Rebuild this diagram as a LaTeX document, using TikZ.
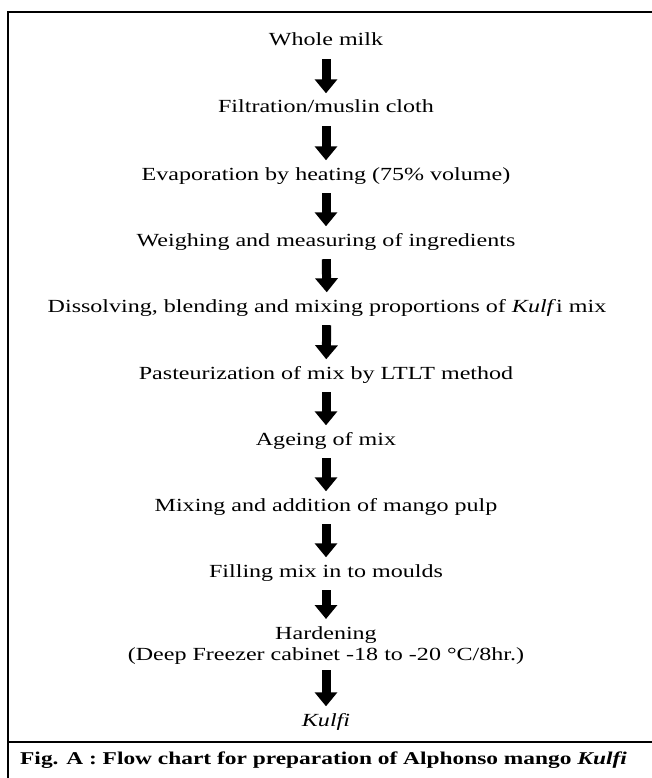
\documentclass[tikz,border=0pt]{standalone}
\usepackage{fontspec}
\setmainfont{Liberation Serif}[FakeStretch=1.3]
\usetikzlibrary{arrows.meta}

\begin{document}
\begin{tikzpicture}[
        x=1pt,
        y=-1pt,
        step text/.style={font=\fontsize{18.5}{21}\selectfont,inner sep=0pt,
            text height=12.5pt,text depth=4pt},
        note text/.style={font=\fontsize{18.5}{21}\selectfont,inner sep=0pt,
            align=center},
        flow arrow/.style={line width=9pt,-{Triangle[width=22pt,length=14pt]},
            shorten <=9pt,shorten >=7pt},
        frame line/.style={line width=2.5pt}
    ]
    \useasboundingbox (0,0) rectangle (652,778);

    % The outer frame and the caption bar.
    \draw[frame line] (654,12) -- (8,12) -- (8,780);
    \draw[frame line] (8,742) -- (654,742);

    % The steps of the process, one per row.
    \node[step text,anchor=base] (milk) at (326,46) {Whole milk};
    \node[step text,anchor=base] (filter) at (326,113) {Filtration/muslin cloth};
    \node[step text,anchor=base] (evap) at (326,180)
        {Evaporation by heating (75\% volume)};
    \node[step text,anchor=base] (weigh) at (326,246)
        {Weighing and measuring of ingredients};
    \node[step text,anchor=base] (blend) at (327,312)
        {Dissolving, blending and mixing proportions of \textit{Kulf}i mix};
    \node[step text,anchor=base] (pasteur) at (326,379)
        {Pasteurization of mix by LTLT method};
    \node[step text,anchor=base] (ageing) at (326,445) {Ageing of mix};
    \node[step text,anchor=base] (pulp) at (326,511)
        {Mixing and addition of mango pulp};
    \node[step text,anchor=base] (moulds) at (326,577) {Filling mix in to moulds};
    \node[note text,anchor=north] (harden) at (326,626)
        {Hardening\\(Deep Freezer cabinet -18 to -20 \textdegree C/8hr.)};
    \node[step text,anchor=base] (kulfi) at (326,726) {\textit{Kulfi}};

    % The arrows between the steps.
    \draw[flow arrow] (milk) -- (filter);
    \draw[flow arrow] (filter) -- (evap);
    \draw[flow arrow] (evap) -- (weigh);
    \draw[flow arrow] (weigh) -- (blend);
    \draw[flow arrow] (blend) -- (pasteur);
    \draw[flow arrow] (pasteur) -- (ageing);
    \draw[flow arrow] (ageing) -- (pulp);
    \draw[flow arrow] (pulp) -- (moulds);
    \draw[flow arrow] (moulds) -- (harden);
    \draw[flow arrow,shorten <=6pt] (harden) -- (kulfi);

    % The caption.
    \node[font=\fontsize{18}{21}\selectfont\bfseries,inner sep=0pt,anchor=base west]
        (caption) at (20,764)
        {Fig. A : Flow chart for preparation of Alphonso mango \textit{Kulfi}};
\end{tikzpicture}
\end{document}
